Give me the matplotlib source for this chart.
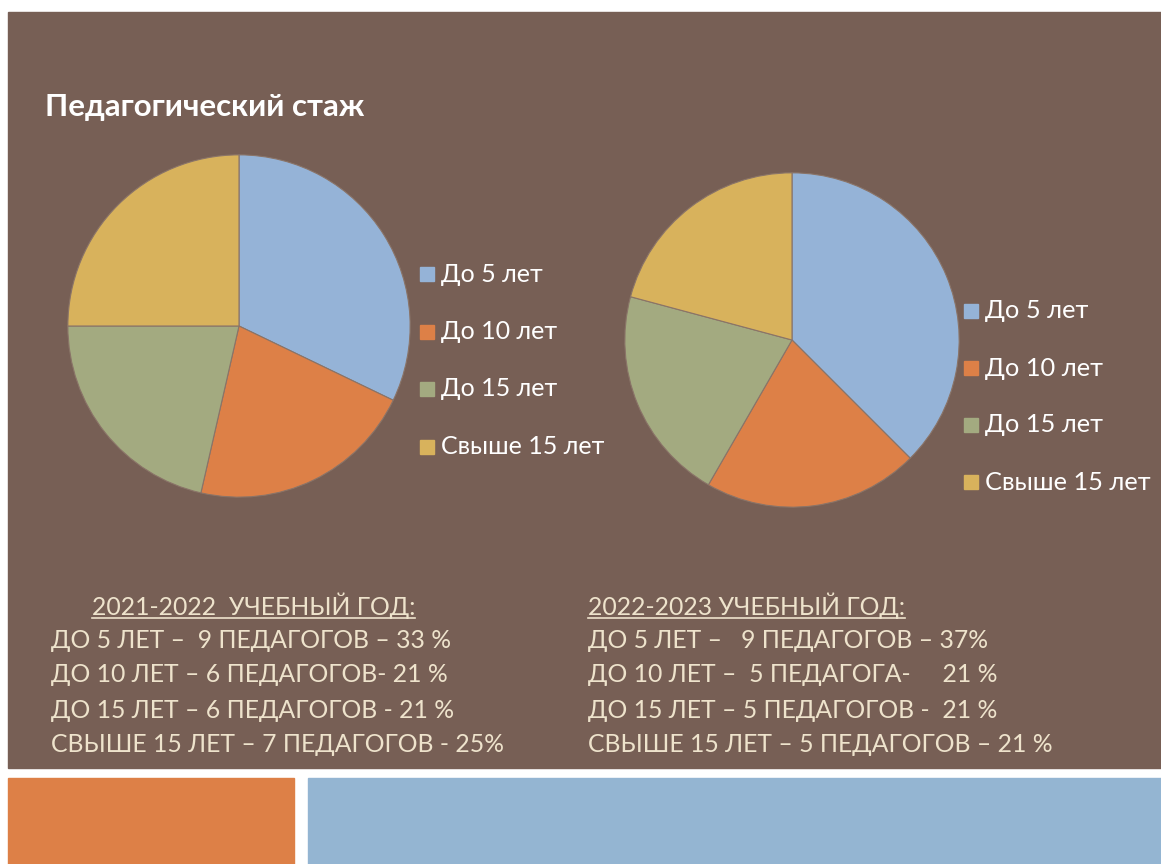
import matplotlib.pyplot as plt
from matplotlib.patches import Rectangle
from matplotlib.lines import Line2D

W, H = 1161, 864

# data
categories = ['До 5 лет', 'До 10 лет', 'До 15 лет', 'Свыше 15 лет']
teachers_2021 = [9, 6, 6, 7]
teachers_2022 = [9, 5, 5, 5]
colors = ['#95B3D7', '#DD8047', '#A3AA80', '#D8B25C']

title = 'Педагогический стаж'
head_2021 = '2021-2022  УЧЕБНЫЙ ГОД:'
lines_2021 = ['ДО 5 ЛЕТ –  9 ПЕДАГОГОВ – 33 %',
              'ДО 10 ЛЕТ – 6 ПЕДАГОГОВ- 21 %',
              'ДО 15 ЛЕТ – 6 ПЕДАГОГОВ - 21 %',
              'СВЫШЕ 15 ЛЕТ – 7 ПЕДАГОГОВ - 25%']
head_2022 = '2022-2023 УЧЕБНЫЙ ГОД:'
lines_2022 = ['ДО 5 ЛЕТ –   9 ПЕДАГОГОВ – 37%',
              'ДО 10 ЛЕТ –  5 ПЕДАГОГА-     21 %',
              'ДО 15 ЛЕТ – 5 ПЕДАГОГОВ -  21 %',
              'СВЫШЕ 15 ЛЕТ – 5 ПЕДАГОГОВ – 21 %']

BROWN = '#775F55'
CREAM = '#EEE3CC'
plt.rcParams['font.family'] = ['Lato', 'DejaVu Sans']


def fx(x):
    return x / W


def fy(y):
    return 1 - y / H


fig = plt.figure(figsize=(W / 100, H / 100), dpi=100, facecolor='white')

# slide blocks (behind the pie axes)
for (x0, y0, x1, y1, c) in [(8, 12, 1161, 768, BROWN),
                            (8, 778, 294, 864, '#DD8047'),
                            (308, 778, 1161, 864, '#94B5D2')]:
    fig.patches.append(Rectangle((fx(x0), fy(y1)), (x1 - x0) / W, (y1 - y0) / H,
                                 transform=fig.transFigure, color=c, zorder=-1))

fig.text(fx(45), fy(107), title, color='white', fontsize=22.5, fontweight='bold',
         va='center', ha='left')


def draw_pie(values, cx, cy, r, leg_x, leg_y0, leg_dy, fs):
    ax = fig.add_axes([fx(cx - r), fy(cy + r), 2 * r / W, 2 * r / H])
    ax.pie(values, colors=colors, startangle=90, counterclock=False,
           wedgeprops=dict(edgecolor='#8A7468', linewidth=0.8))
    ax.set_aspect('auto')
    ax.set_xlim(-1.005, 1.005)
    ax.set_ylim(-1.005, 1.005)
    ax.axis('off')
    for i, (lab, c) in enumerate(zip(categories, colors)):
        y = leg_y0 + i * leg_dy
        fig.patches.append(Rectangle((fx(leg_x - 7), fy(y + 7)), 14 / W, 14 / H,
                                     transform=fig.transFigure, color=c))
        fig.text(fx(leg_x + 14), fy(y), lab, color='white', fontsize=fs,
                 va='center', ha='left')


draw_pie(teachers_2021, 239, 326, 172, 427, 274, 57.5, 18)
draw_pie(teachers_2022, 792, 340, 168, 971, 311, 57, 18.3)

fig.canvas.draw()
renderer = fig.canvas.get_renderer()


def text_block(x_head, x_lines, head, lines):
    t = fig.text(fx(x_head), fy(606), head, color=CREAM, fontsize=17.8,
                 va='center', ha='left')
    bb = t.get_window_extent(renderer).transformed(fig.transFigure.inverted())
    fig.add_artist(Line2D([bb.x0, bb.x1], [bb.y0 + 0.002, bb.y0 + 0.002],
                          transform=fig.transFigure, color=CREAM, linewidth=1.2))
    for i, s in enumerate(lines):
        fig.text(fx(x_lines), fy(640 + i * 35), s, color=CREAM, fontsize=17.8,
                 va='center', ha='left')


text_block(92, 51, head_2021, lines_2021)
text_block(588, 588, head_2022, lines_2022)

fig.savefig('out.png', dpi=100, facecolor='white')
